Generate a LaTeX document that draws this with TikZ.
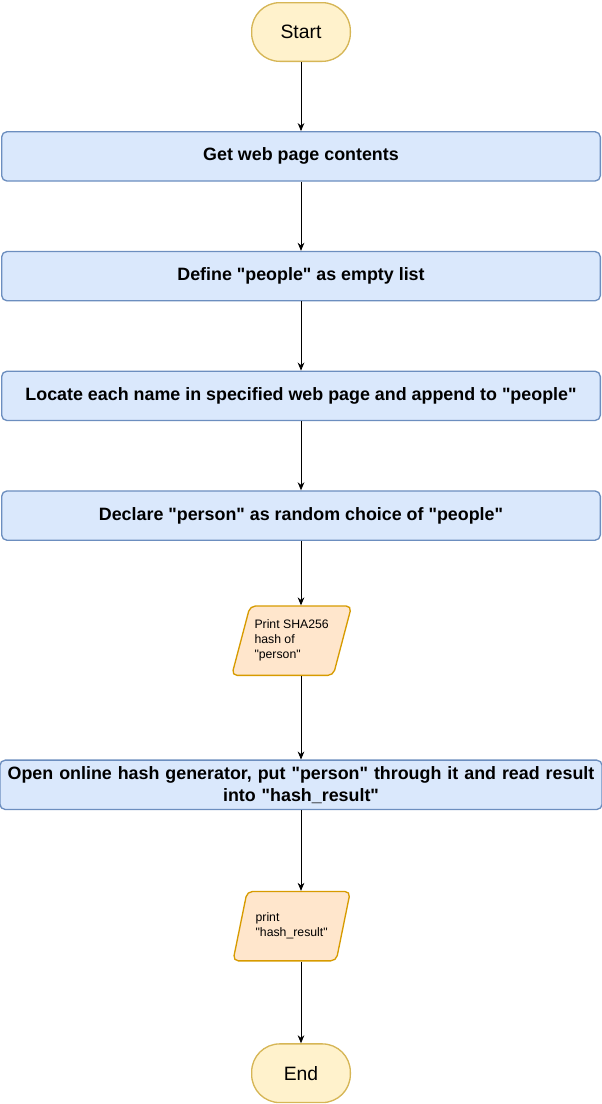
\documentclass[tikz,border=0pt]{standalone}
\usepackage{fontspec}
\setmainfont{Liberation Sans}[Ligatures=TeXOff]
\usepackage{tikz}
\usetikzlibrary{shapes,arrows.meta,positioning}

\definecolor{boxfill}{HTML}{DAE8FC}
\definecolor{boxline}{HTML}{6C8EBF}
\definecolor{termfill}{HTML}{FFF2CC}
\definecolor{termline}{HTML}{D6B656}
\definecolor{iofill}{HTML}{FFE6CC}
\definecolor{ioline}{HTML}{D79B00}

\begin{document}
\begin{tikzpicture}[
    node distance=51.8pt,
    term/.style={rectangle, draw=termline, fill=termfill, line width=1pt, rounded corners=21pt, minimum width=74pt, minimum height=44pt, font=\fontsize{14.5}{17}\selectfont},
    box/.style={rectangle, draw=boxline, fill=boxfill, line width=1pt, rounded corners=4pt, minimum width=449pt, minimum height=37pt, align=center, font=\bfseries\fontsize{13.4}{16.5}\selectfont},
    io/.style={trapezium, trapezium left angle=70, trapezium right angle=110, trapezium stretches=true, draw=ioline, fill=iofill, line width=1pt, rounded corners=4pt, minimum width=88pt, minimum height=52pt, align=left, font=\fontsize{9.2}{11.25}\selectfont},
    arrow/.style={-{Stealth[length=6pt,width=5pt]}, line width=0.6pt}
]
    \useasboundingbox (0,0) rectangle (451.5pt,-828pt);

    % Nodos
    \node[term] (start) at (225.75pt,-24pt) {Start};
    \node[box, below=51.8pt of start] (fetch) {Get web page contents};
    \node[box, below=of fetch] (people) {Define "people" as empty list};
    \node[box, below=of people] (locate) {Locate each name in specified web page and append to "people"};
    \node[box, below=of locate] (choose) {Declare "person" as random choice of "people"};
    \node[io, below=48.3pt of choose, xshift=-7pt] (printhash) {Print SHA256\\hash of\\"person"};
    \node[box, below=62.6pt of printhash.south -| choose.south, anchor=north, text width=445pt] (online) {Open online hash generator, put "person" through it and read result\\into "hash\_result"};
    \node[io, below=60.5pt of online, xshift=-7pt] (printres) {print\\"hash\_result"};
    \node[term, below=61.3pt of printres.south -| online.south, anchor=north] (finish) {End};

    % Flechas
    \draw[arrow] (start) -- (fetch);
    \draw[arrow] (fetch) -- (people);
    \draw[arrow] (people) -- (locate);
    \draw[arrow] (locate) -- (choose);
    \draw[arrow] (choose.south) -- (choose.south |- printhash.north);
    \draw[arrow] (choose.south |- printhash.south) -- (online.north);
    \draw[arrow] (online.south) -- (online.south |- printres.north);
    \draw[arrow] (online.south |- printres.south) -- (finish.north);
\end{tikzpicture}
\end{document}
